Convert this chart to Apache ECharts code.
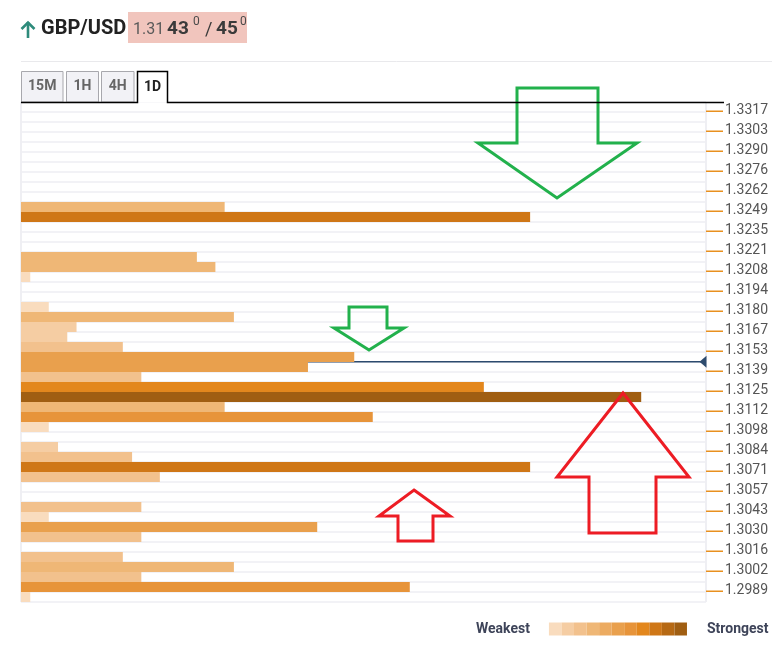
<!DOCTYPE html>
<html><head><meta charset="utf-8">
<script src="https://cdn.jsdelivr.net/npm/echarts@6/dist/echarts.min.js"></script>
<style>html,body{margin:0;padding:0;background:#fff}#c{width:772px;height:653px}</style>
</head><body><div id="c"></div>
<script>
// Price level labels (top to bottom, one per two rows)
const priceLabels = ['1.3317','1.3303','1.3290','1.3276','1.3262','1.3249','1.3235','1.3221','1.3208','1.3194','1.3180','1.3167','1.3153','1.3139','1.3125','1.3112','1.3098','1.3084','1.3071','1.3057','1.3043','1.3030','1.3016','1.3002','1.2989'];
// Confluence strength per row (top to bottom, 50 rows)
const strength = [0,0,0,0,0,0,0,0,0,0,
  22,55,0,0,0,19,21,1,0,0,
  3,23,6,5,11,36,31,13,50,67,
  22,38,3,0,4,12,55,15,0,0,
  13,3,32,13,0,11,23,13,42,1];
const currentPrice = 1.3143;
const symbolName = 'GBP/USD';
const bidBig = '43', askBig = '45', pricePrefix = '1.31', pip = '0';
const tabs = ['15M','1H','4H','1D'];
// Weakest -> strongest palette
const palette = ['#F9DCBE','#F5CDA3','#F2C18D','#EFB776','#ECAB61','#E9A04D','#E7943A','#E3871D','#CF7717','#B66914','#A05E12'];
const levelUpper = [3,6,15,25,29,36,44,52,58,63,100];

const nRows = strength.length;
const rowIds = strength.map((_, i) => String(i));
const axisCats = rowIds.slice().reverse();
const barData = strength.slice().reverse();
const topP = parseFloat(priceLabels[0]);
const botP = parseFloat(priceLabels[priceLabels.length - 1]);
const rowStep = (topP - botP) / ((priceLabels.length - 1) * 2);
const pMax = topP + rowStep * 0.5;
const pMin = topP - rowStep * (nRows - 0.5);

const pieces = levelUpper.map((u, i) => ({
  gt: i === 0 ? -1 : levelUpper[i - 1], lte: u, color: palette[i]
}));

const chart = echarts.init(document.getElementById('c'), null, {renderer: 'canvas'});
const F = 'Roboto';
const green = '#22B14C', red = '#ED1C24';
function arrow(points, color) {
  return {type: 'polygon', z: 100, shape: {points: points}, style: {fill: 'none', stroke: color, lineWidth: 3, lineJoin: 'miter'}};
}
const tabBoxes = [[21.5, 41.5], [66.5, 32], [101.5, 32.5]];
const graphics = [
  {type: 'polyline', z: 100, shape: {points: [[28, 38], [28, 22]]}, style: {stroke: '#2E8B7B', lineWidth: 2.6, fill: 'none'}},
  {type: 'polyline', z: 100, shape: {points: [[21.5, 29], [28, 22.5], [34.5, 29]]}, style: {stroke: '#2E8B7B', lineWidth: 2.6, fill: 'none'}},
  {type: 'text', z: 100, x: 41, y: 29, style: {text: symbolName, font: 'bold 20px Roboto', fill: '#222', verticalAlign: 'middle'}},
  {type: 'rect', z: 99, shape: {x: 128, y: 12, width: 119, height: 31}, style: {fill: '#F1C5BD'}},
  {type: 'text', z: 100, x: 133, y: 30, style: {text: pricePrefix, font: '16px Roboto', fill: '#5A5A5A', verticalAlign: 'middle'}},
  {type: 'text', z: 100, x: 167, y: 29.5, style: {text: bidBig, font: 'bold 19px Roboto', fill: '#3A3A3A', verticalAlign: 'middle'}},
  {type: 'text', z: 100, x: 193, y: 22, style: {text: pip, font: '12px Roboto', fill: '#4A4A4A', verticalAlign: 'middle'}},
  {type: 'text', z: 100, x: 205, y: 30, style: {text: '/', font: '18px Roboto', fill: '#3A3A3A', verticalAlign: 'middle'}},
  {type: 'text', z: 100, x: 216, y: 29.5, style: {text: askBig, font: 'bold 19px Roboto', fill: '#3A3A3A', verticalAlign: 'middle'}},
  {type: 'text', z: 100, x: 240, y: 22, style: {text: pip, font: '12px Roboto', fill: '#4A4A4A', verticalAlign: 'middle'}},
  {type: 'line', z: 100, shape: {x1: 21, y1: 61.5, x2: 772, y2: 61.5}, style: {stroke: '#E9E9EC', lineWidth: 1}}
];
tabBoxes.forEach((b, i) => {
  graphics.push({type: 'rect', z: 100, shape: {x: b[0], y: 71.5, width: b[1], height: 30.5}, style: {fill: '#F2F2F6', stroke: '#A8A8AD', lineWidth: 1}});
  graphics.push({type: 'text', z: 101, x: b[0] + b[1] / 2, y: 86.5, style: {text: tabs[i], font: 'bold 14px Roboto', fill: '#666', align: 'center', verticalAlign: 'middle'}});
});
graphics.push({type: 'rect', z: 100, shape: {x: 137.5, y: 71.5, width: 30, height: 31}, style: {fill: '#fff'}});
graphics.push({type: 'polyline', z: 102, shape: {points: [[21, 102.5], [137.5, 102.5], [137.5, 71.5], [167.5, 71.5], [167.5, 102.5], [724, 102.5]]}, style: {stroke: '#000', lineWidth: 1.5, fill: 'none'}});
graphics.push({type: 'text', z: 101, x: 152.5, y: 87, style: {text: tabs[3], font: 'bold 14px Roboto', fill: '#222', align: 'center', verticalAlign: 'middle'}});
graphics.push(arrow([[517, 88], [598, 88], [598, 143], [637, 143], [557, 198], [478, 143], [517, 143]], green));
graphics.push(arrow([[349, 307], [387, 307], [387, 328], [404, 328], [369, 350], [334, 328], [349, 328]], green));
graphics.push(arrow([[623, 393], [689, 477], [656, 477], [656, 533], [589, 533], [589, 477], [557, 477]], red));
graphics.push(arrow([[414, 490], [450, 516], [433, 516], [433, 541], [398, 541], [398, 516], [379, 516]], red));

const option = {
  animation: false,
  backgroundColor: '#fff',
  grid: {left: 21, top: 102, width: 685, height: 500},
  xAxis: {
    type: 'value', min: 0, max: 74, interval: 74,
    axisLine: {show: false}, axisTick: {show: false}, axisLabel: {show: false},
    splitLine: {show: true, lineStyle: {color: '#EFEFF3', width: 2}}
  },
  yAxis: [
    {
      type: 'category', position: 'right', data: axisCats,
      axisLine: {show: false},
      axisTick: {show: false},
      axisLabel: {interval: 0, margin: 0,
        formatter: (v) => { const r = +v; return r % 2 === 0 ? '{u|}{t|' + priceLabels[r / 2] + '}' : ''; },
        rich: {
          u: {width: 17, height: 1.5, lineHeight: 1.5, backgroundColor: '#E8901F', verticalAlign: 'bottom'},
          t: {color: '#555', fontSize: 14, fontFamily: F, lineHeight: 10, padding: [7, 0, 0, 2], verticalAlign: 'middle'}
        }},
      splitLine: {show: true, interval: 0, lineStyle: {color: '#F2F2F6', width: 2}}
    },
    {type: 'value', min: pMin, max: pMax, show: false}
  ],
  visualMap: {
    type: 'piecewise', seriesIndex: 0, dimension: 0, pieces: pieces,
    orient: 'horizontal', left: 476, top: 622, padding: 0,
    itemWidth: 12.55, itemHeight: 13, itemGap: 0, itemSymbol: 'rect',
    text: ['{h|}Strongest', 'Weakest{g|}'], hoverLink: false, selectedMode: false,
    textStyle: {fontSize: 14, fontWeight: 'bold', color: '#3E4459', fontFamily: F,
      rich: {g: {width: 38}, h: {width: 40}}}
  },
  series: [
    {
      type: 'bar', xAxisIndex: 0, yAxisIndex: 0, data: barData, z: 3,
      barWidth: '100%', barCategoryGap: 0, silent: true
    },
    {
      type: 'line', xAxisIndex: 0, yAxisIndex: 1, z: 2, silent: true, clip: false,
      lineStyle: {color: '#2D4B6E', width: 1.5},
      itemStyle: {color: '#2D4B6E'},
      showSymbol: true,
      data: [
        {value: [0, currentPrice], symbol: 'none'},
        {value: [74, currentPrice], symbol: 'triangle', symbolSize: [12, 7], symbolRotate: 90, symbolOffset: [-3, 0]}
      ]
    }
  ],
  graphic: graphics
};
chart.setOption(option);
</script></body></html>
